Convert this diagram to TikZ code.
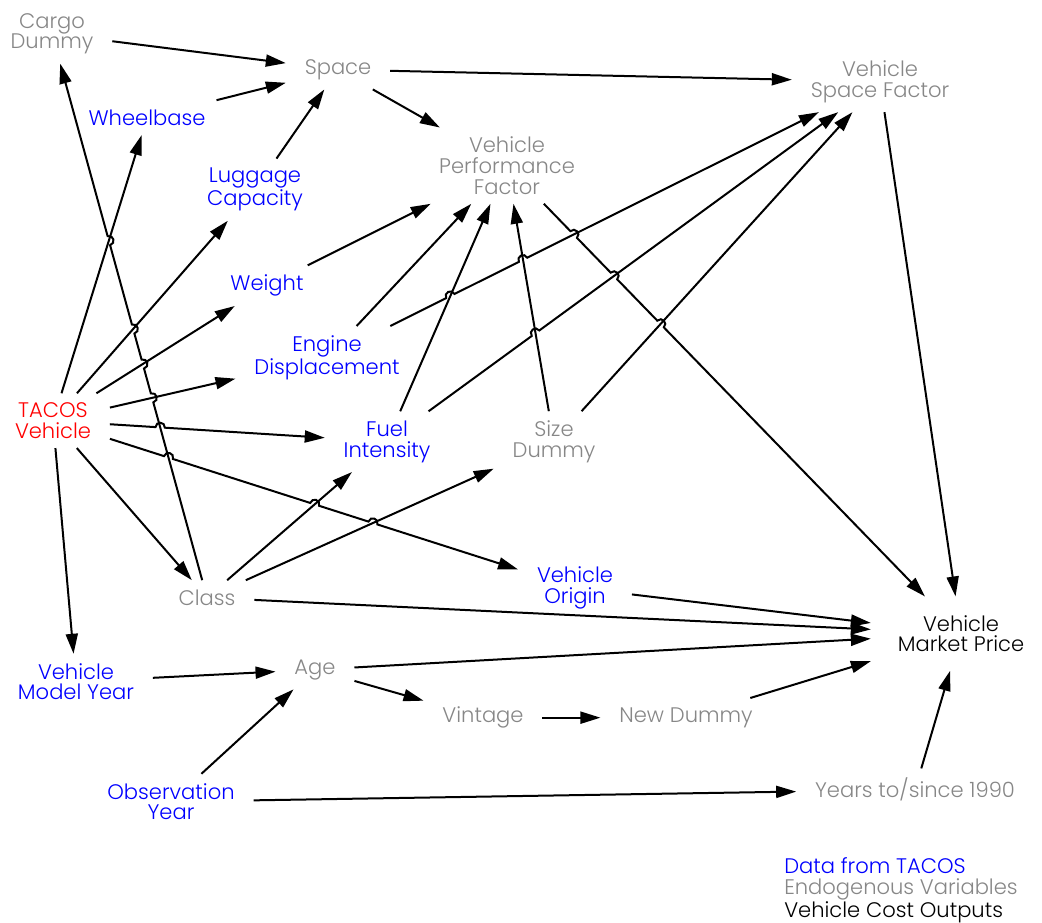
\documentclass[tikz,border=0pt]{standalone}
\usepackage{fontspec}
\setmainfont{Poppins}[UprightFont={* Light}]
\usetikzlibrary{arrows.meta,calc,intersections}
\definecolor{srcblue}{RGB}{0,0,255}
\definecolor{srcred}{RGB}{255,0,0}
\definecolor{endogray}{RGB}{135,135,135}
\def\hr{3.5pt}
\begin{document}
\begin{tikzpicture}[x=0.75pt,y=0.75pt,
  varbox/.style={align=center,inner xsep=14pt,inner ysep=7pt,yshift=-2pt,
    font=\fontsize{15.8}{15.4}\selectfont},
  tacosvar/.style={varbox,text=srcblue},
  endovar/.style={varbox,text=endogray},
  resultvar/.style={varbox,text=black},
  keyvar/.style={varbox,text=srcred},
  edge/.style={line width=1.5pt,-{Triangle[length=15pt,width=9pt]}},
  hopL/.style={bend left=90,looseness=1.7},
  hopR/.style={bend right=90,looseness=1.7}]
\useasboundingbox (0,0) rectangle (1042,-923);

% variables
\node[endovar]   (cargo)  at (52,-31)   {Cargo\\Dummy};
\node[endovar]   (space)  at (338,-67)  {Space};
\node[endovar]   (vsf)    at (880,-79)  {Vehicle\\Space Factor};
\node[tacosvar]  (wheel)  at (147,-115) {Wheelbase};
\node[endovar]   (vpf)    at (507,-163) {Vehicle\\Performance\\Factor};
\node[tacosvar]  (lug)    at (255,-187) {Luggage\\Capacity};
\node[tacosvar]  (weight) at (267,-283) {Weight};
\node[tacosvar]  (engine) at (327,-355) {Engine\\Displacement};
\node[keyvar]    (tacos)  at (53,-418)  {TACOS\\Vehicle};
\node[tacosvar]  (fuel)   at (387,-439) {Fuel\\Intensity};
\node[endovar]   (size)   at (554,-439) {Size\\Dummy};
\node[endovar]   (class)  at (207,-595) {Class};
\node[tacosvar]  (origin) at (575,-585) {Vehicle\\Origin};
\node[resultvar,inner xsep=20pt,inner ysep=14pt] (mp) at (961,-631) {Vehicle\\Market Price};
\node[tacosvar]  (my)     at (76,-679)  {Vehicle\\Model Year};
\node[endovar]   (age)    at (315,-667) {Age};
\node[endovar]   (vint)   at (483,-715) {Vintage};
\node[endovar]   (newd)   at (686,-715) {New Dummy};
\node[tacosvar]  (obs)    at (171,-799) {Observation\\Year};
\node[endovar]   (years)  at (915,-787) {Years to/since 1990};

% legend
\node[anchor=north west,align=left,inner sep=0pt,
  font=\fontsize{15.8}{16}\selectfont] (legend) at (784,-857)
  {\textcolor{srcblue}{Data from TACOS}\\
   \textcolor{endogray}{Endogenous Variables}\\
   Vehicle Cost Outputs};

% paths used to locate crossings
\path[name path=cc]  (class)  -- (cargo);
\path[name path=tw]  (tacos)  -- (wheel);
\path[name path=tl]  (tacos)  -- (lug);
\path[name path=twt] (tacos)  -- (weight);
\path[name path=te]  (tacos)  -- (engine);
\path[name path=tf]  (tacos)  -- (fuel);
\path[name path=to]  (tacos)  -- (origin);
\path[name path=cf]  (class)  -- (fuel);
\path[name path=cs]  (class)  -- (size);
\path[name path=fv]  (fuel)   -- (vpf);
\path[name path=sv]  (size)   -- (vpf);
\path[name path=ev]  (engine) -- (vsf);
\path[name path=fs]  (fuel)   -- (vsf);
\path[name path=ss]  (size)   -- (vsf);
\path[name path=vm]  (vpf)    -- (mp);

\path[name intersections={of=cc and te,  by={xa}}];
\path[name intersections={of=cc and twt, by={xb}}];
\path[name intersections={of=cc and tl,  by={xc}}];
\path[name intersections={of=cc and tw,  by={xd}}];
\path[name intersections={of=tf and cc,  by={xe}}];
\path[name intersections={of=to and cc,  by={xf}}];
\path[name intersections={of=to and cf,  by={xg}}];
\path[name intersections={of=to and cs,  by={xh}}];
\path[name intersections={of=ev and fv,  by={xi}}];
\path[name intersections={of=ev and sv,  by={xj}}];
\path[name intersections={of=fs and sv,  by={xk}}];
\path[name intersections={of=vm and ev,  by={xl}}];
\path[name intersections={of=vm and fs,  by={xm}}];
\path[name intersections={of=vm and ss,  by={xn}}];

% plain connectors
\draw[edge] (cargo)  -- (space);
\draw[edge] (wheel)  -- (space);
\draw[edge] (lug)    -- (space);
\draw[edge] (space)  -- (vsf);
\draw[edge] (space)  -- (vpf);
\draw[edge] (tacos)  -- (wheel);
\draw[edge] (tacos)  -- (lug);
\draw[edge] (tacos)  -- (weight);
\draw[edge] (tacos)  -- (engine);
\draw[edge] (tacos)  -- (class);
\draw[edge] (tacos)  -- (my);
\draw[edge] (weight) -- (vpf);
\draw[edge] (engine) -- (vpf);
\draw[edge] (fuel)   -- (vpf);
\draw[edge] (size)   -- (vpf);
\draw[edge] (size)   -- (vsf);
\draw[edge] (vsf)    -- (mp);
\draw[edge] (class)  -- (fuel);
\draw[edge] (class)  -- (size);
\draw[edge] (class)  -- (mp);
\draw[edge] (origin) -- (mp);
\draw[edge] (age)    -- (mp);
\draw[edge] (newd)   -- (mp);
\draw[edge] (years)  -- (mp);
\draw[edge] (my)     -- (age);
\draw[edge] (obs)    -- (age);
\draw[edge] (obs)    -- (years);
\draw[edge] (age)    -- (vint);
\draw[edge] (vint)   -- (newd);

% connectors that hop over the ones they cross
\draw[edge] (class)
  -- ($(xa)!\hr!(class)$) to[hopR] ($(xa)!\hr!(cargo)$)
  -- ($(xb)!\hr!(class)$) to[hopR] ($(xb)!\hr!(cargo)$)
  -- ($(xc)!\hr!(class)$) to[hopR] ($(xc)!\hr!(cargo)$)
  -- ($(xd)!\hr!(class)$) to[hopR] ($(xd)!\hr!(cargo)$)
  -- (cargo);
\draw[edge] (tacos)
  -- ($(xe)!\hr!(tacos)$) to[hopL] ($(xe)!\hr!(fuel)$)
  -- (fuel);
\draw[edge] (tacos)
  -- ($(xf)!\hr!(tacos)$) to[hopL] ($(xf)!\hr!(origin)$)
  -- ($(xg)!\hr!(tacos)$) to[hopL] ($(xg)!\hr!(origin)$)
  -- ($(xh)!\hr!(tacos)$) to[hopL] ($(xh)!\hr!(origin)$)
  -- (origin);
\draw[edge] (engine)
  -- ($(xi)!\hr!(engine)$) to[hopL] ($(xi)!\hr!(vsf)$)
  -- ($(xj)!\hr!(engine)$) to[hopL] ($(xj)!\hr!(vsf)$)
  -- (vsf);
\draw[edge] (fuel)
  -- ($(xk)!\hr!(fuel)$) to[hopL] ($(xk)!\hr!(vsf)$)
  -- (vsf);
\draw[edge] (vpf)
  -- ($(xl)!\hr!(vpf)$) to[hopL] ($(xl)!\hr!(mp)$)
  -- ($(xm)!\hr!(vpf)$) to[hopL] ($(xm)!\hr!(mp)$)
  -- ($(xn)!\hr!(vpf)$) to[hopL] ($(xn)!\hr!(mp)$)
  -- (mp);
\end{tikzpicture}
\end{document}
